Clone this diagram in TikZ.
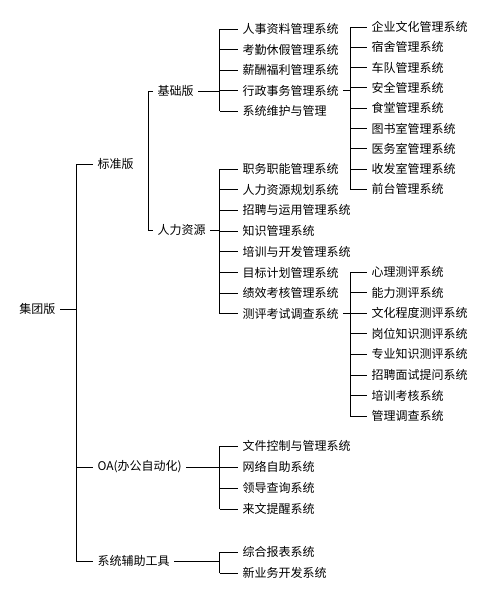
\documentclass[tikz,border=0pt]{standalone}
\usepackage{fontspec}
\newfontfamily\cjk{Noto Sans CJK SC}
\usetikzlibrary{positioning,calc}
\tikzset{item/.style={font=\cjk\fontsize{12}{12}\selectfont,anchor=west,inner xsep=4pt,inner ysep=1pt}}

\begin{document}
\begin{tikzpicture}[x=1pt,y=-1pt,line width=1pt]
\useasboundingbox (0,0) rectangle (492,600);
% bus lines
\coordinate (busA) at (76,0);
\coordinate (busB) at (148,0);
\coordinate (busC) at (219.5,0);
\coordinate (busD) at (350,0);
% upper levels
\node[item] (root) at (15,309) {集团版};
\node[item] (std) at (93,164) {标准版};
\node[item] (oa) at (93,467) {OA(办公自动化)};
\node[item] (aux) at (93,561) {系统辅助工具};
\node[item] (base) at (153,91) {基础版};
\node[item] (hr) at (153,230) {人力资源};
\draw (root.east) -- (root.east -| busA);
\draw (std.west) -| (busA |- aux.west) -- (aux.west);
\draw (busA |- oa.west) -- (oa.west);
\draw (base.west) -| (busB |- hr.west) -- (hr.west);
% basic edition
\foreach \t [count=\i from 0] in {人事资料管理系统,考勤休假管理系统,薪酬福利管理系统,行政事务管理系统,系统维护与管理}{\node[item] (b\i) at (238,{29+20.5*\i}) {\t};\draw (busC |- b\i.west) -- (b\i.west);}
\draw (busC |- b0.west) -- (busC |- b4.west);
\draw (base.east) -- (base.east -| busC);
\foreach \t [count=\i from 0] in {企业文化管理系统,宿舍管理系统,车队管理系统,安全管理系统,食堂管理系统,图书室管理系统,医务室管理系统,收发室管理系统,前台管理系统}{\node[item] (x\i) at (367,{27+20.3*\i}) {\t};\draw (busD |- x\i.west) -- (x\i.west);}
\draw (busD |- x0.west) -- (busD |- x8.west);
\draw (b3.east) -- (b3.east -| busD);
% human resources
\foreach \t [count=\i from 0] in {职务职能管理系统,人力资源规划系统,招聘与运用管理系统,知识管理系统,培训与开发管理系统,目标计划管理系统,绩效考核管理系统,测评考试调查系统}{\node[item] (h\i) at (238,{169+20.7*\i}) {\t};\draw (busC |- h\i.west) -- (h\i.west);}
\draw (busC |- h0.west) -- (busC |- h7.west);
\draw (hr.east) -- (hr.east -| busC);
\foreach \t [count=\i from 0] in {心理测评系统,能力测评系统,文化程度测评系统,岗位知识测评系统,专业知识测评系统,招聘面试提问系统,培训考核系统,管理调查系统}{\node[item] (t\i) at (367,{272+20.6*\i}) {\t};\draw (busD |- t\i.west) -- (t\i.west);}
\draw (busD |- t0.west) -- (busD |- t7.west);
\draw (h7.east) -- (h7.east -| busD);
% office automation
\foreach \t [count=\i from 0] in {文件控制与管理系统,网络自助系统,领导查询系统,来文提醒系统}{\node[item] (o\i) at (238,{446+21*\i}) {\t};\draw (busC |- o\i.west) -- (o\i.west);}
\draw (busC |- o0.west) -- (busC |- o3.west);
\draw (oa.east) -- (oa.east -| busC);
% tools
\foreach \t [count=\i from 0] in {综合报表系统,新业务开发系统}{\node[item] (a\i) at (238,{552+21*\i}) {\t};\draw (busC |- a\i.west) -- (a\i.west);}
\draw (busC |- a0.west) -- (busC |- a1.west);
\draw (aux.east) -- (aux.east -| busC);
\end{tikzpicture}
\end{document}
